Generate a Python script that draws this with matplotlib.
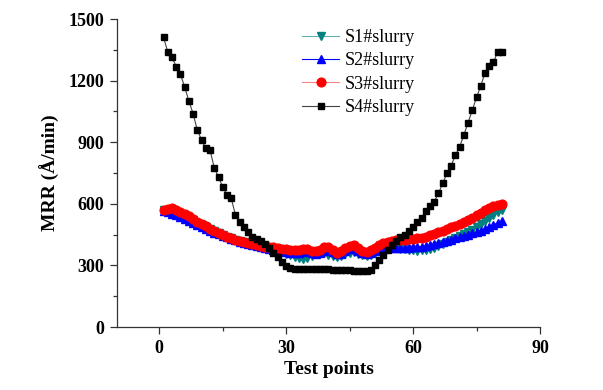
import matplotlib
matplotlib.use("Agg")
import matplotlib.pyplot as plt
from matplotlib.ticker import MultipleLocator

x = list(range(1, 82))

s1 = [568, 566, 560, 555, 548, 540, 530, 520, 508, 497, 487, 476, 466, 457, 448, 440, 432, 425, 418, 412,
      406, 400, 395, 391, 387, 383, 378, 372, 365, 358, 350, 342, 335, 330, 335, 345, 358, 365, 360, 352,
      345, 340, 345, 355, 362, 365, 358, 350, 348, 352, 362, 372, 380, 385, 385, 383, 380, 378, 375, 373,
      372, 373, 376, 380, 386, 393, 402, 412, 422, 432, 442, 452, 463, 475, 488, 500, 515, 530, 545, 558, 570]

s2 = [565, 560, 553, 545, 537, 528, 518, 508, 497, 487, 478, 469, 460, 452, 444, 437, 430, 423, 416, 410,
      404, 398, 393, 389, 385, 381, 377, 373, 369, 365, 362, 360, 362, 367, 368, 362, 356, 360, 372, 378,
      365, 355, 358, 370, 378, 380, 370, 360, 358, 362, 370, 378, 382, 384, 385, 385, 385, 386, 387, 388,
      390, 392, 395, 398, 402, 407, 413, 419, 426, 432, 438, 444, 450, 456, 463, 470, 478, 487, 497, 508, 518]

s3 = [570, 575, 578, 570, 562, 552, 540, 528, 513, 500, 490, 478, 468, 460, 450, 440, 432, 425, 418, 413,
      408, 403, 399, 396, 392, 390, 388, 385, 382, 378, 375, 375, 377, 380, 378, 372, 368, 375, 388, 392,
      375, 362, 368, 385, 395, 398, 385, 370, 367, 375, 385, 400, 410, 415, 418, 422, 424, 426, 428, 430,
      432, 435, 440, 447, 455, 462, 470, 478, 485, 493, 500, 510, 522, 533, 545, 557, 570, 580, 588, 595, 600]

s4 = [1411, 1341, 1316, 1268, 1232, 1169, 1101, 1039, 958, 912, 870, 861, 776, 729, 683, 643, 627, 547, 513, 487,
      461, 440, 427, 419, 403, 383, 359, 339, 318, 297, 286, 281, 283, 285, 284, 284, 283, 283, 282, 281,
      280, 279, 278, 277, 276, 275, 273, 272, 272, 280, 300, 326, 351, 375, 399, 419, 437, 448, 467, 488,
      513, 532, 565, 589, 610, 651, 700, 749, 786, 837, 878, 935, 996, 1057, 1119, 1174, 1239, 1273, 1290, 1341, 1341]

labels = ["S1#slurry", "S2#slurry", "S3#slurry", "S4#slurry"]

plt.rcParams['font.family'] = ['Liberation Serif', 'DejaVu Serif']

fig = plt.figure(figsize=(6.03, 3.9), dpi=100)
ax = fig.add_axes([0.194, 0.1615, 0.7015, 0.7895])

ax.plot(x, s1, color='#5fb0b0', lw=0.8, marker='v', ms=6.3, mfc='#008080', mec='#008080', label=labels[0])
ax.plot(x, s2, color='#0000ff', lw=0.8, marker='^', ms=6.3, mfc='#0000ff', mec='#0000ff', label=labels[1])
ax.plot(x, s3, color='#ff8080', lw=0.8, marker='o', ms=6.3, mfc='#ff0000', mec='#ff0000', label=labels[2])
ax.plot(x, s4, color='#444444', lw=0.8, marker='s', ms=5.0, mfc='#000000', mec='#000000', label=labels[3])

ax.set_xlim(-10, 90)
ax.set_ylim(0, 1500)
ax.xaxis.set_major_locator(MultipleLocator(30))
ax.xaxis.set_minor_locator(MultipleLocator(15))
ax.yaxis.set_major_locator(MultipleLocator(300))
ax.yaxis.set_minor_locator(MultipleLocator(150))

for s in ['top', 'right']:
    ax.spines[s].set_visible(False)
for s in ['left', 'bottom']:
    ax.spines[s].set_color('#333333')
    ax.spines[s].set_linewidth(0.9)

ax.tick_params(which='major', direction='out', length=5, width=0.9, color='#333333', labelsize=13, pad=4)
ax.tick_params(which='minor', direction='out', length=3, width=0.9, color='#333333')
for lab in ax.get_xticklabels() + ax.get_yticklabels():
    lab.set_fontweight('bold')

ax.set_xlabel('Test points', fontsize=14, fontweight='bold', labelpad=3)
ax.set_ylabel('MRR (Å/min)', fontsize=14, fontweight='bold', labelpad=6)

leg = ax.legend(loc='upper left', bbox_to_anchor=(0.415, 1.0), frameon=False, fontsize=13,
                handlelength=2.0, handletextpad=0.35, labelspacing=0.35, borderaxespad=0.15)

fig.savefig('out.png', dpi=100)
